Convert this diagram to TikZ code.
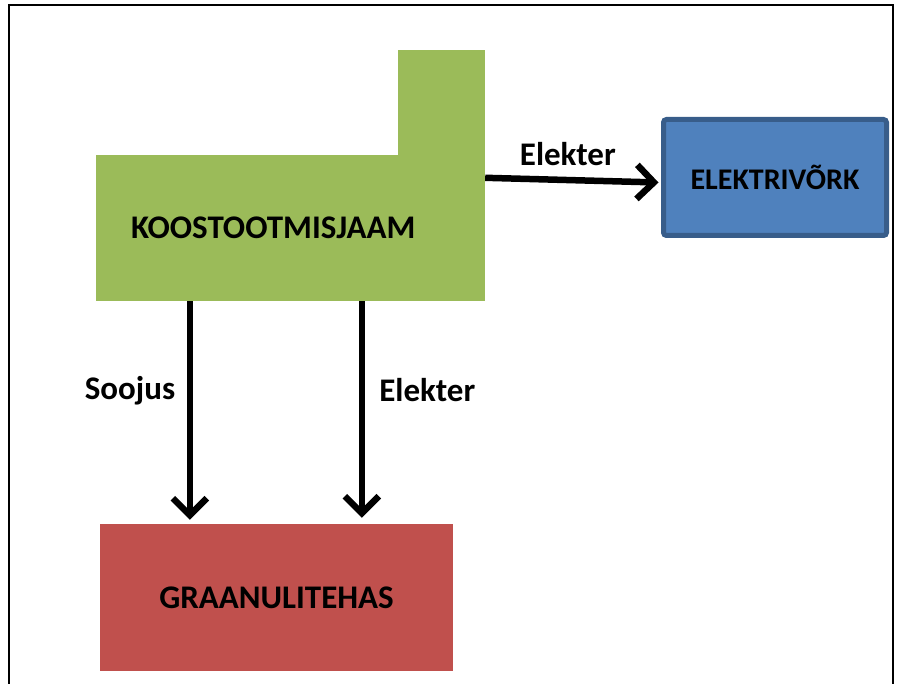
\documentclass[tikz,border=0pt]{standalone}
\usepackage{fontspec}
\setmainfont{Carlito}
\usetikzlibrary{arrows.meta}

\definecolor{plantgreen}{HTML}{9BBB59}
\definecolor{gridblue}{HTML}{4F81BD}
\definecolor{gridedge}{HTML}{385D8A}
\definecolor{pelletred}{HTML}{C0504D}

\begin{document}
\begin{tikzpicture}[x=1pt,y=-1pt]
    \useasboundingbox (0,0) rectangle (897,684);
    \draw[line width=2pt] (9,684) -- (9,5) -- (893,5) -- (893,684);

    \begin{scope}[font=\fontsize{33}{40}\selectfont\bfseries]
    \tikzstyle{every node}=[inner sep=0pt]
    % chimney of the plant
    \fill[plantgreen] (398,50) rectangle (485,156);
    \node[fill=plantgreen, minimum width=389pt, minimum height=146pt,
          text width=389pt, align=left] (kj) at (290.5,228) {\hspace*{35pt}\raisebox{-3pt}{KOOSTOOTMISJAAM}};
    \node[fill=gridblue, draw=gridedge, line width=5pt, rounded corners=3pt,
          minimum width=223pt, minimum height=116pt, font=\fontsize{30}{36}\selectfont\bfseries] (ev) at (775,177.5) {\raisebox{-4pt}{ELEKTRIVÕRK}};
    \node[fill=pelletred, minimum width=353pt, minimum height=147pt] (gh) at (276.5,597.5) {\raisebox{-3pt}{GRAANULITEHAS}};
    \end{scope}

  \begin{scope}[line width=6.5pt, -{Straight Barb[length=17pt,width=34pt]},
                font=\fontsize{33}{40}\selectfont\bfseries]
    \draw ([yshift=-23pt]kj.north east) -- ([yshift=-5pt,xshift=-2.5pt]ev.west) node[midway,above=8pt,xshift=-4pt]{Elekter};
    \draw ([xshift=94pt]kj.south west) -- ([xshift=90pt,yshift=4pt]gh.north west) node[pos=0.41,left=8pt]{Soojus};
    \draw ([xshift=266pt]kj.south west) -- ([xshift=262pt,yshift=6pt]gh.north west) node[pos=0.41,right=11pt]{Elekter};
  \end{scope}

\end{tikzpicture}
\end{document}
